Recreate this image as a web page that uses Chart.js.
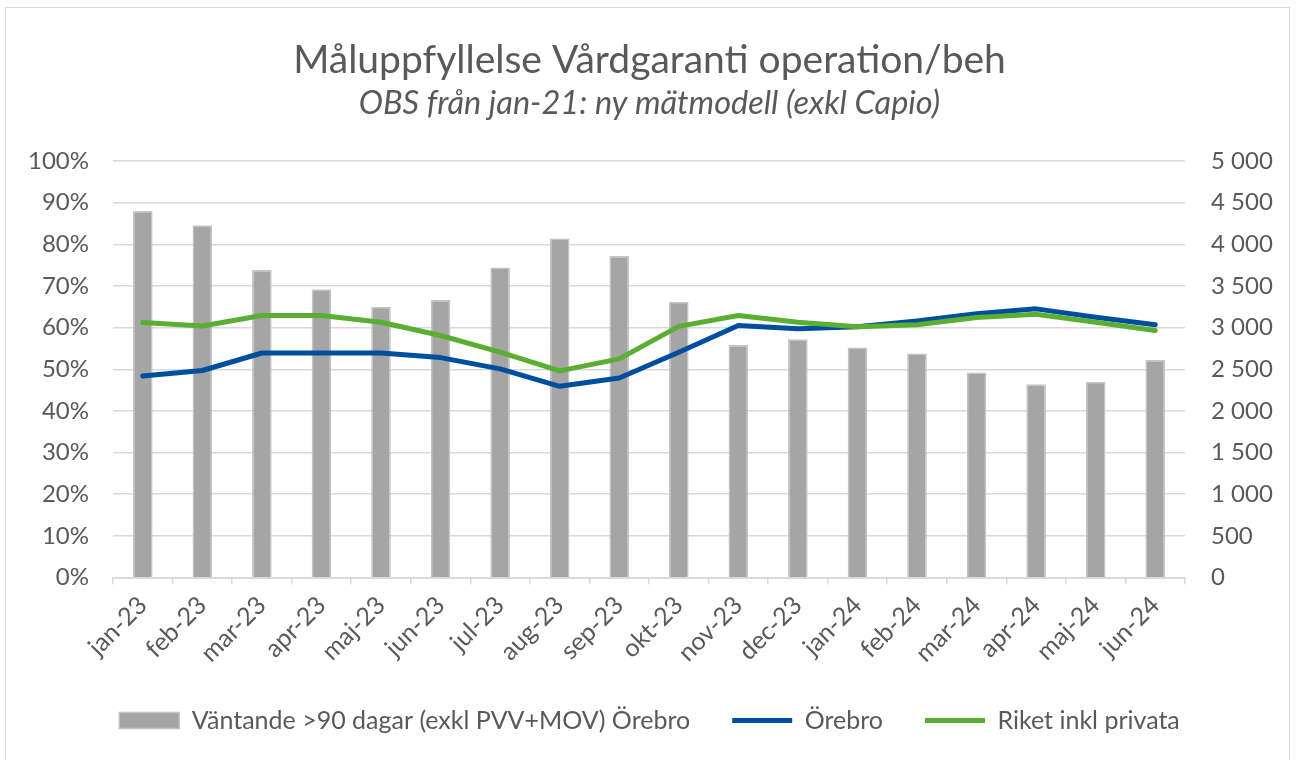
<!DOCTYPE html>
<html>
<head>
<meta charset="utf-8">
<script src="https://cdn.jsdelivr.net/npm/chart.js@4"></script>
<style>
  html, body { margin: 0; padding: 0; background: #ffffff; }
  #frame { position: absolute; left: 5px; top: 7px; width: 1285px; height: 770px; border: 1px solid #d9d9d9; box-sizing: border-box; }
  #wrap { position: absolute; left: 0; top: 0; width: 1299px; height: 760px; }
</style>
</head>
<body>
<div id="frame"></div>
<div id="wrap"><canvas id="c" width="1299" height="760"></canvas></div>
<script>
const categories = ['jan-23','feb-23','mar-23','apr-23','maj-23','jun-23','jul-23','aug-23','sep-23','okt-23','nov-23','dec-23','jan-24','feb-24','mar-24','apr-24','maj-24','jun-24'];
const waiting = [4400, 4230, 3690, 3460, 3250, 3330, 3720, 4070, 3860, 3310, 2790, 2860, 2760, 2690, 2460, 2320, 2350, 2610];
const orebro = [0.484, 0.497, 0.539, 0.539, 0.539, 0.528, 0.501, 0.459, 0.479, 0.541, 0.605, 0.597, 0.602, 0.616, 0.633, 0.645, 0.625, 0.607];
const riket = [0.612, 0.604, 0.629, 0.629, 0.613, 0.581, 0.541, 0.496, 0.525, 0.603, 0.629, 0.613, 0.602, 0.607, 0.624, 0.632, 0.613, 0.593];
const seriesNames = ['Väntande >90 dagar (exkl PVV+MOV) Örebro', 'Örebro', 'Riket inkl privata'];
const titleText = 'Måluppfyllelse Vårdgaranti operation/beh';
const subtitleText = 'OBS från jan-21: ny mätmodell (exkl Capio)';

const FONT = 'Lato';
const TXT = '#595959';
const GRID = '#d9d9d9';

new Chart(document.getElementById('c'), {
  data: {
    labels: categories,
    datasets: [
      {
        type: 'bar', label: seriesNames[0], data: waiting, yAxisID: 'y2',
        backgroundColor: '#a5a5a5', borderColor: '#c4c4c4', borderWidth: 1.5,
        barPercentage: 0.33, categoryPercentage: 1, order: 3, pointStyle: 'rect'
      },
      {
        type: 'line', label: seriesNames[1], data: orebro, yAxisID: 'y',
        borderColor: '#004f9f', backgroundColor: '#004f9f', borderWidth: 5,
        pointRadius: 0, tension: 0, borderJoinStyle: 'round', borderCapStyle: 'round',
        order: 2, pointStyle: 'line'
      },
      {
        type: 'line', label: seriesNames[2], data: riket, yAxisID: 'y',
        borderColor: '#5aae32', backgroundColor: '#5aae32', borderWidth: 5,
        pointRadius: 0, tension: 0, borderJoinStyle: 'round', borderCapStyle: 'round',
        order: 1, pointStyle: 'line'
      }
    ]
  },
  options: {
    responsive: false,
    animation: false,
    layout: { padding: { left: 0, right: 0, top: 0, bottom: 17 } },
    plugins: {
      tooltip: { enabled: false },
      title: {
        display: true, text: titleText, color: TXT,
        font: { family: FONT, size: 39, weight: 'normal' },
        padding: { top: 36.6, bottom: 1.1 }
      },
      subtitle: {
        display: true, text: subtitleText, color: TXT,
        font: { family: FONT, size: 32.5, style: 'italic', weight: 'normal' },
        padding: { top: 0, bottom: 37.5 }
      },
      legend: {
        position: 'bottom',
        labels: {
          color: TXT,
          font: { family: FONT, size: 25 },
          usePointStyle: true,
          pointStyleWidth: 60,
          boxHeight: 16,
          padding: 42,
          sort: (a, b) => a.datasetIndex - b.datasetIndex
        }
      }
    },
    scales: {
      x: {
        offset: true,
        grid: { display: true, drawOnChartArea: false, drawTicks: true, tickLength: 7, color: GRID, lineWidth: 1.5, offset: true },
        border: { display: true, color: GRID, width: 2 },
        ticks: { color: TXT, font: { family: FONT, size: 25 }, minRotation: 45, maxRotation: 45, padding: 6, autoSkip: false },
        afterFit: (s) => { s.height = 88.5; }
      },
      y: {
        position: 'left', min: 0, max: 1,
        grid: { color: GRID, lineWidth: 1.5, drawTicks: false },
        border: { display: false },
        ticks: {
          stepSize: 0.1, padding: 24, color: TXT, font: { family: FONT, size: 24 },
          callback: (v) => Math.round(v * 100) + '%'
        },
        afterFit: (s) => { s.width = 113; }
      },
      y2: {
        position: 'right', min: 0, max: 5000,
        grid: { drawOnChartArea: false, drawTicks: false },
        border: { display: false },
        ticks: {
          stepSize: 500, padding: 26, color: TXT, font: { family: FONT, size: 24 },
          callback: (v) => String(v).replace(/\B(?=(\d{3})+(?!\d))/g, ' ')
        },
        afterFit: (s) => { s.width = 114; }
      }
    }
  }
});
</script>
</body>
</html>
